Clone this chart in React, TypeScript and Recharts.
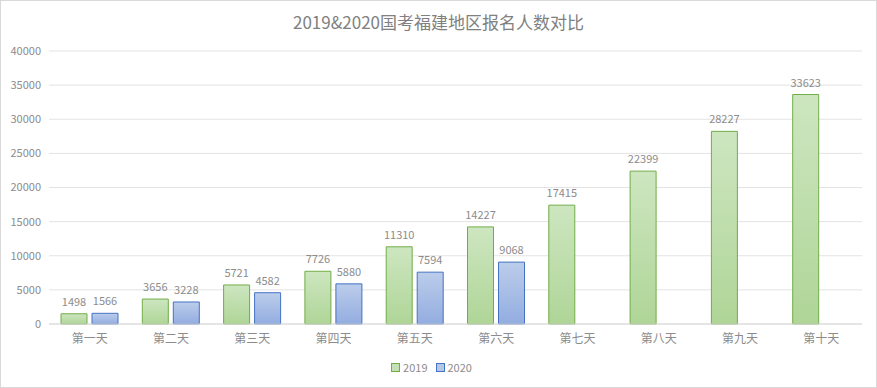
import { Bar, BarChart, CartesianGrid, LabelList, Legend, XAxis, YAxis } from "recharts";

const days = ["第一天", "第二天", "第三天", "第四天", "第五天", "第六天", "第七天", "第八天", "第九天", "第十天"];
const y2019 = [1498, 3656, 5721, 7726, 11310, 14227, 17415, 22399, 28227, 33623];
const y2020: (number | null)[] = [1566, 3228, 4582, 5880, 7594, 9068, null, null, null, null];
const yTicks = [0, 5000, 10000, 15000, 20000, 25000, 30000, 35000, 40000];

const data = days.map((day, i) => ({ day, y2019: y2019[i], y2020: y2020[i] }));

const font = '"Noto Sans CJK SC", "Noto Sans", sans-serif';
const gray = "#8c8c8c";

function LegendBox() {
  const items = [
    { label: "2019", fill: "#c5e0b4", stroke: "#70ad47" },
    { label: "2020", fill: "#b4c7e7", stroke: "#4472c4" },
  ];
  return (
    <div
      style={{
        display: "flex",
        justifyContent: "center",
        gap: 8,
        paddingTop: 5,
        fontSize: 11,
        color: gray,
        fontFamily: font,
      }}
    >
      {items.map((it) => (
        <span key={it.label} style={{ display: "flex", alignItems: "center", gap: 3 }}>
          <span style={{ width: 7, height: 7, background: it.fill, border: `1px solid ${it.stroke}` }} />
          {it.label}
        </span>
      ))}
    </div>
  );
}

export default function App() {
  return (
    <div
      style={{
        position: "absolute",
        left: 0,
        top: 0,
        width: 875,
        height: 386,
        border: "1px solid #d9d9d9",
        background: "#fff",
        fontFamily: font,
      }}
    >
      <div
        style={{
          position: "absolute",
          top: 8,
          left: 0,
          width: "100%",
          textAlign: "center",
          fontSize: 17,
          color: "#808080",
        }}
      >
        2019&amp;2020国考福建地区报名人数对比
      </div>
      <BarChart
        width={875}
        height={386}
        data={data}
        margin={{ top: 50, right: 14, bottom: 5, left: 0 }}
        barGap={5}
        barSize={26}
      >
        <defs>
          <linearGradient id="g2019" x1="0" y1="0" x2="0" y2="1">
            <stop offset="0%" stopColor="#cde6c0" />
            <stop offset="100%" stopColor="#afd597" />
          </linearGradient>
          <linearGradient id="g2020" x1="0" y1="0" x2="0" y2="1">
            <stop offset="0%" stopColor="#bccdeb" />
            <stop offset="100%" stopColor="#93ade0" />
          </linearGradient>
        </defs>
        <CartesianGrid stroke="#e3e3e3" vertical={false} />
        <XAxis
          dataKey="day"
          tick={{ fontSize: 12, fill: gray, dy: 2 }}
          tickLine={false}
          axisLine={{ stroke: "#d9d9d9" }}
          height={30}
        />
        <YAxis
          domain={[0, 40000]}
          ticks={yTicks}
          tick={{ fontSize: 11, fill: gray }}
          tickLine={false}
          axisLine={false}
          width={48}
        />
        <Legend verticalAlign="bottom" height={28} content={() => <LegendBox />} />
        <Bar dataKey="y2019" name="2019" fill="url(#g2019)" stroke="#70ad47" strokeWidth={1} isAnimationActive={false}>
          <LabelList dataKey="y2019" position="top" offset={8} style={{ fontSize: 11, fill: gray }} />
        </Bar>
        <Bar dataKey="y2020" name="2020" fill="url(#g2020)" stroke="#4472c4" strokeWidth={1} isAnimationActive={false}>
          <LabelList dataKey="y2020" position="top" offset={8} style={{ fontSize: 11, fill: gray }} />
        </Bar>
      </BarChart>
    </div>
  );
}
